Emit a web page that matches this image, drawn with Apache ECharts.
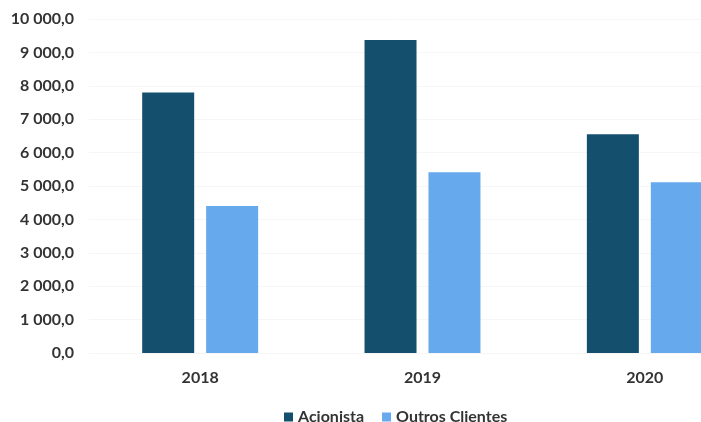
<!DOCTYPE html>
<html>
<head>
<meta charset="utf-8">
<script src="https://cdn.jsdelivr.net/npm/echarts@6/dist/echarts.min.js"></script>
<style>
  html, body { margin: 0; padding: 0; background: #fff; }
  #chart { width: 701px; height: 422px; }
</style>
</head>
<body>
<div id="chart"></div>
<script>
// Years on the category axis
const years = ['2018', '2019', '2020'];
// Revenue by client type
const acionista = [7800, 9370, 6550];
const outrosClientes = [4400, 5410, 5110];
const seriesNames = ['Acionista', 'Outros Clientes'];

// Portuguese number format: space thousands separator, comma decimal
function fmt(v) {
  const s = v.toFixed(1).split('.');
  const intPart = s[0].replace(/\B(?=(\d{3})+(?!\d))/g, ' ');
  return intPart + ',' + s[1];
}

const font = 'Lato, "Noto Sans", sans-serif';
const chart = echarts.init(document.getElementById('chart'));
chart.setOption({
  animation: false,
  backgroundColor: '#ffffff',
  textStyle: { fontFamily: font },
  legend: {
    data: seriesNames,
    top: 404,
    left: 279,
    itemWidth: 9,
    itemHeight: 9,
    itemGap: 18,
    icon: 'rect',
    textStyle: { fontFamily: font, fontWeight: 'bold', fontSize: 16, color: '#333' }
  },
  // the plot runs past the right edge, so the last bar is clipped
  grid: { left: 89, width: 667, top: 19, height: 334, outerBoundsMode: 'none' },
  xAxis: {
    type: 'category',
    data: years,
    axisLine: { show: false },
    axisTick: { show: false },
    axisLabel: { fontFamily: font, fontWeight: 'bold', fontSize: 16, color: '#333', margin: 17 }
  },
  yAxis: {
    type: 'value',
    min: 0,
    max: 10000,
    interval: 1000,
    axisLine: { show: false },
    axisTick: { show: false },
    splitLine: { lineStyle: { color: '#f6f6f6', width: 1 } },
    axisLabel: {
      fontFamily: font, fontWeight: 'bold', fontSize: 16, color: '#333', margin: 15,
      formatter: fmt
    }
  },
  series: [
    {
      name: seriesNames[0],
      type: 'bar',
      data: acionista,
      barWidth: 52,
      barGap: '23%',
      itemStyle: { color: '#14506e' }
    },
    {
      name: seriesNames[1],
      type: 'bar',
      data: outrosClientes,
      barWidth: 52,
      itemStyle: { color: '#66a9ec' }
    }
  ]
});
</script>
</body>
</html>
